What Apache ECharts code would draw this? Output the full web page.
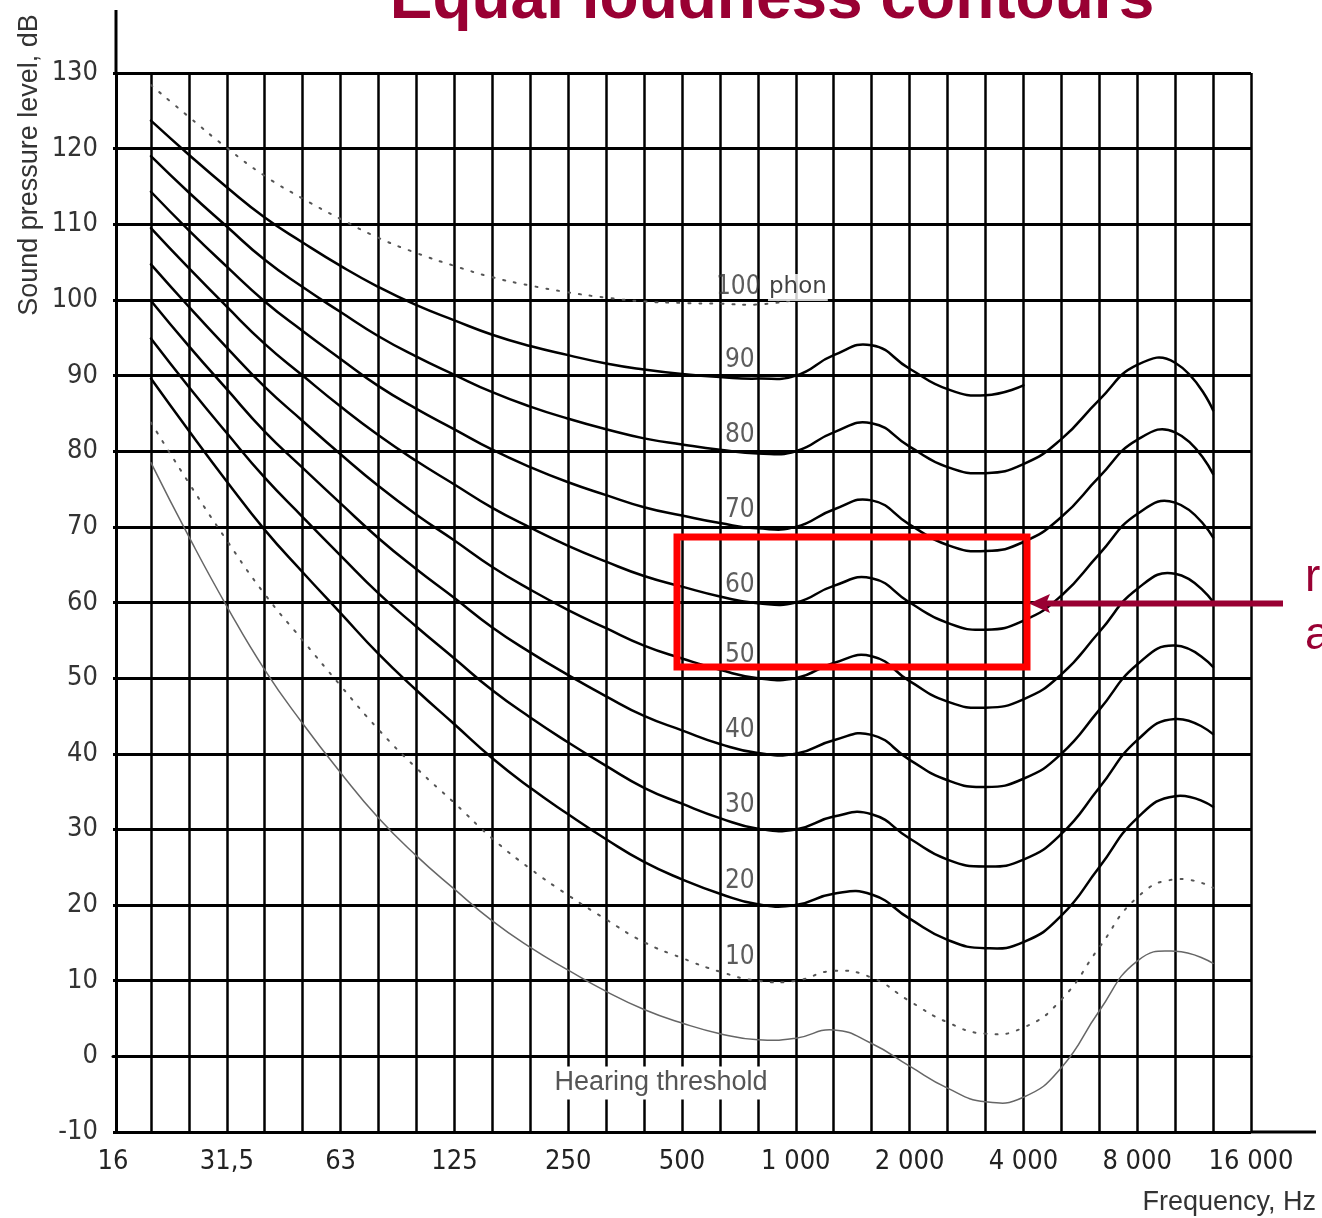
<!DOCTYPE html>
<html><head><meta charset="utf-8">
<script src="https://cdn.jsdelivr.net/npm/echarts@6/dist/echarts.min.js"></script>
<style>html,body{margin:0;padding:0;background:#fff}#c{width:1322px;height:1218px}</style>
</head><body><div id="c"></div>
<script>
// Third-octave band categories (Hz)
const bands = ['16','20','25','31,5','40','50','63','80','100','125','160','200','250','315','400','500','630','800','1 000','1 250','1 600','2 000','2 500','3 150','4 000','5 000','6 300','8 000','10 000','12 500','16 000'];
// Labels shown on the frequency axis
const tickLabels = ['16','31,5','63','125','250','500','1 000','2 000','4 000','8 000','16 000'];
// Curves: values in dB starting at the 20 Hz band
const threshold = [78.5, 68.7, 59.5, 51.1, 44.0, 37.5, 31.5, 26.5, 22.1, 17.9, 14.4, 11.4, 8.6, 6.2, 4.4, 3.0, 2.2, 2.4, 3.5, 1.7, -1.3, -4.2, -6.0, -5.4, -1.5, 6.0, 12.6, 13.9, 12.3];
const phon10 = [83.8, 75.8, 68.2, 61.1, 55.0, 49.0, 43.2, 38.1, 33.5, 28.8, 24.8, 21.3, 18.1, 15.1, 13.0, 11.2, 10.0, 10.0, 11.3, 10.4, 7.3, 4.5, 3.0, 3.8, 7.5, 14.4, 21.0, 23.4, 22.3];
const phon20 = [89.6, 82.7, 76.0, 69.6, 64.0, 58.6, 53.2, 48.4, 43.9, 39.4, 35.5, 32.0, 28.7, 25.7, 23.4, 21.5, 20.1, 20.0, 21.5, 21.4, 18.2, 15.4, 14.3, 15.1, 18.6, 25.0, 31.5, 34.4, 33.0];
const phon30 = [94.9, 88.5, 82.4, 76.5, 71.3, 66.2, 61.2, 56.8, 52.6, 48.4, 44.8, 41.5, 38.4, 35.5, 33.4, 31.5, 30.1, 30.0, 31.7, 32.0, 28.8, 26.0, 25.1, 26.0, 29.4, 35.5, 41.8, 44.6, 42.6];
const phon40 = [99.9, 93.9, 88.2, 82.6, 77.8, 73.1, 68.5, 64.4, 60.6, 56.7, 53.4, 50.4, 47.6, 45.0, 43.1, 41.3, 40.1, 40.0, 41.8, 42.5, 39.2, 36.5, 35.6, 36.7, 40.0, 45.8, 51.8, 54.3, 51.5];
const phon50 = [104.7, 99.1, 93.7, 88.5, 84.0, 79.6, 75.4, 71.6, 68.2, 64.7, 61.7, 59.0, 56.6, 54.3, 52.6, 51.1, 50.0, 50.0, 52.0, 52.9, 49.6, 46.9, 46.1, 47.2, 50.5, 56.1, 61.8, 63.8, 60.1];
const phon60 = [109.5, 104.2, 99.1, 94.2, 90.0, 85.9, 82.1, 78.7, 75.6, 72.5, 69.9, 67.5, 65.4, 63.5, 62.1, 60.8, 59.9, 60.0, 62.2, 63.2, 60.0, 57.3, 56.4, 57.6, 60.9, 66.4, 71.7, 73.2, 68.6];
const phon70 = [114.3, 109.2, 104.4, 99.8, 95.9, 92.2, 88.6, 85.6, 82.9, 80.2, 77.9, 75.9, 74.2, 72.6, 71.5, 70.5, 69.8, 70.0, 72.3, 73.5, 70.3, 67.6, 66.8, 68.0, 71.3, 76.6, 81.5, 82.5, 77.0];
const phon80 = [119.0, 114.2, 109.7, 105.3, 101.7, 98.4, 95.2, 92.5, 90.1, 87.8, 85.9, 84.3, 82.9, 81.7, 80.9, 80.2, 79.7, 80.0, 82.5, 83.7, 80.6, 77.9, 77.1, 78.3, 81.6, 86.8, 91.4, 91.7, 85.4];
const phon90 = [123.7, 119.2, 114.9, 110.9, 107.6, 104.5, 101.7, 99.3, 97.3, 95.4, 93.9, 92.7, 91.6, 90.8, 90.2, 89.8, 89.6, 90.0, 92.7, 94.0, 90.9, 88.2, 87.4, 88.7];
const phon100 = [128.4, 124.2, 120.1, 116.4, 113.4, 110.7, 108.2, 106.2, 104.5, 103.0, 101.9, 101.0, 100.3, 99.8, 99.6, 99.5, 99.4, 100.0];
const phonNames = ['10','20','30','40','50','60','70','80','90','100'];

const narrow = "'Liberation Sans Narrow','DejaVu Sans Condensed','Arial Narrow',sans-serif";
const dark = '#990033';

function bandData(values){ return values.map((v,i)=>[bands[i+1], v]); }

const solid = {color:'#000', width:2.5, dash:null};
const dotted = {color:'#555', width:2, dash:[2,9]};
const curveDefs = [
  {name:'Hearing threshold', data:threshold, style:{color:'#666', width:1.5, dash:null}},
  {name:'10 phon', data:phon10, style:dotted},
  {name:'20 phon', data:phon20, style:solid},
  {name:'30 phon', data:phon30, style:solid},
  {name:'40 phon', data:phon40, style:solid},
  {name:'50 phon', data:phon50, style:solid},
  {name:'60 phon', data:phon60, style:solid},
  {name:'70 phon', data:phon70, style:solid},
  {name:'80 phon', data:phon80, style:solid},
  {name:'90 phon', data:phon90, style:solid},
  {name:'100 phon', data:phon100, style:dotted}
];
// Each curve: a smooth spline drawn through the band values via the chart's own coordinate system
const series = curveDefs.map(c => ({
  type:'custom', name:c.name, data:bandData(c.data), encode:{x:0, y:1}, silent:true, z:3,
  renderItem:(params, api) => {
    if (params.dataIndex !== 0) return null;
    const pts = c.data.map((v,i) => api.coord([i+1, v]));
    return {type:'polyline', shape:{points:pts, smooth:0.5},
      style:{fill:'none', stroke:c.style.color, lineWidth:c.style.width, lineDash:c.style.dash, lineCap:'round'}};
  }
}));

const curves = [phon10,phon20,phon30,phon40,phon50,phon60,phon70,phon80,phon90,phon100];
const labelData = curves.map((c,i)=>({
  value:[bands[17], c[16]],
  label: i===9 ? {formatter:'{n|100} {p|phon}', offset:[14,-17]} : {formatter:phonNames[i], offset:[-18, i>=5 ? -18 : -23]}
}));
series.push({
  type:'scatter', data:labelData, symbolSize:1, itemStyle:{color:'rgba(0,0,0,0)'}, silent:true, z:6,
  label:{show:true, position:'inside', fontFamily:narrow, fontSize:26, color:'#333',
    rich:{ n:{fontFamily:narrow, fontSize:26, color:'#333'},
           p:{fontFamily:"'DejaVu Sans',sans-serif", fontSize:23, color:'#111', backgroundColor:'#fff', padding:[2,1,2,1]} }}
});

const chart = echarts.init(document.getElementById('c'));
chart.setOption({
  animation:false,
  backgroundColor:'#fff',
  grid:{left:113, right:71, top:73, bottom:86, containLabel:false},
  xAxis:{
    type:'category', data:bands, boundaryGap:false,
    axisLine:{show:true, lineStyle:{color:'#000', width:3}},
    axisTick:{show:false},
    axisLabel:{interval:(idx,val)=>tickLabels.includes(val), margin:16, fontFamily:narrow, fontSize:27, color:'#222'},
    splitLine:{show:true, interval:(idx)=>idx !== 0, lineStyle:{color:'#000', width:2.5}}
  },
  yAxis:{
    type:'value', min:-10, max:130, interval:10, offset:-3,
    axisLine:{show:true, lineStyle:{color:'#000', width:3}},
    axisTick:{show:false},
    axisLabel:{margin:18, fontFamily:narrow, fontSize:27, color:'#333'},
    splitLine:{show:true, lineStyle:{color:'#000', width:3}}
  },
  series:series,
  graphic:[
    {type:'line', z:100, shape:{x1:116, y1:73, x2:116, y2:10}, style:{stroke:'#000', lineWidth:3}},
    {type:'line', z:100, shape:{x1:1251, y1:1132, x2:1316, y2:1132}, style:{stroke:'#000', lineWidth:3}},
    {type:'text', z:100, style:{text:'Equal loudness contours', x:772, y:0, align:'center', verticalAlign:'middle', font:"bold 64px 'Liberation Sans',Arial,sans-serif", fill:dark}},
    {type:'text', z:100, rotation:Math.PI/2, x:30, y:165, style:{text:'Sound pressure level, dB', x:0, y:0, align:'center', verticalAlign:'middle', font:"27px 'Liberation Sans',Arial,sans-serif", fill:'#333'}},
    {type:'text', z:100, style:{text:'Frequency, Hz', x:1316, y:1203, align:'right', verticalAlign:'middle', font:"27px 'Liberation Sans',Arial,sans-serif", fill:'#333'}},
    {type:'text', z:100, style:{text:'Hearing threshold', x:661, y:1083, align:'center', verticalAlign:'middle', font:"27px 'Liberation Sans',Arial,sans-serif", fill:'#555', backgroundColor:'#fff', padding:[3,2,3,2]}},
    {type:'rect', z:100, shape:{x:677, y:537, width:350, height:130}, style:{fill:'none', stroke:'#ff0000', lineWidth:7}},
    {type:'line', z:100, shape:{x1:1283, y1:603.5, x2:1045, y2:603.5}, style:{stroke:dark, lineWidth:6}},
    {type:'polygon', z:100, shape:{points:[[1029,603.5],[1050,594],[1046,603.5],[1050,613]]}, style:{fill:dark}},
    {type:'text', z:100, style:{text:'ra', x:1305, y:578, align:'left', verticalAlign:'middle', font:"46px 'Liberation Sans',Arial,sans-serif", fill:dark}},
    {type:'text', z:100, style:{text:'a', x:1305, y:636, align:'left', verticalAlign:'middle', font:"46px 'Liberation Sans',Arial,sans-serif", fill:dark}}
  ]
});
</script></body></html>
